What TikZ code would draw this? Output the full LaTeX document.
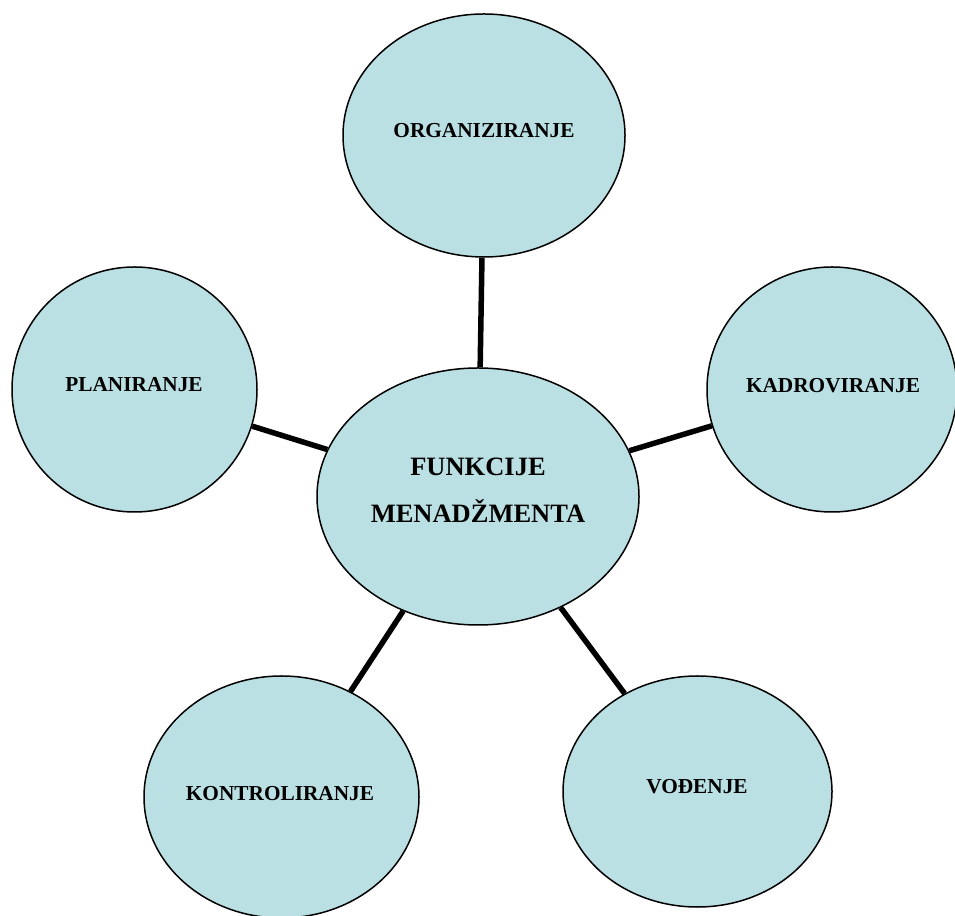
\documentclass[tikz,border=0pt]{standalone}
\usepackage{fontspec}
\setmainfont{Liberation Serif}
\usetikzlibrary{shapes.geometric}
\definecolor{bubble}{RGB}{187,224,227}
\tikzset{
  bub/.style={ellipse, draw=black, line width=1.5pt, fill=bubble, inner sep=0pt},
  lbl/.style={anchor=base, inner sep=0pt, font=\bfseries\fontsize{21.3}{25}\selectfont},
  biglbl/.style={anchor=base, inner sep=0pt, font=\bfseries\fontsize{26.5}{47}\selectfont},
  conn/.style={line width=5.5pt}
}
\begin{document}
\begin{tikzpicture}[x=1pt,y=1pt]
\useasboundingbox (0,0) rectangle (955,915);
% bubbles
\node[bub, minimum width=322pt, minimum height=257pt] (c) at (478,418.5) {};
\node[bub, minimum width=282pt, minimum height=243pt] (o) at (484,779.5) {};
\node[bub, minimum width=245pt, minimum height=245pt] (p) at (134.5,525.5) {};
\node[bub, minimum width=250pt, minimum height=245pt] (k) at (832,525.5) {};
\node[bub, minimum width=275pt, minimum height=242pt] (kt) at (281.5,118) {};
\node[bub, minimum width=269pt, minimum height=231pt] (v) at (697.5,123.5) {};
% connectors
\draw[conn] (c) -- (o);
\draw[conn] (c) -- (p);
\draw[conn] (c) -- (k);
\draw[conn] (c) -- (kt);
\draw[conn] (c) -- (v);
% labels
\node[biglbl] (c1) at (478,439) {FUNKCIJE};
\node[biglbl] (c2) at (478,392) {MENADŽMENTA};
\node[lbl] (ol) at (484,777) {ORGANIZIRANJE};
\node[lbl] (pl) at (134,523) {PLANIRANJE};
\node[lbl] (kl) at (833,522) {KADROVIRANJE};
\node[lbl] (ktl) at (280,114) {KONTROLIRANJE};
\node[lbl] (vl) at (697,121) {VOĐENJE};
\end{tikzpicture}
\end{document}
